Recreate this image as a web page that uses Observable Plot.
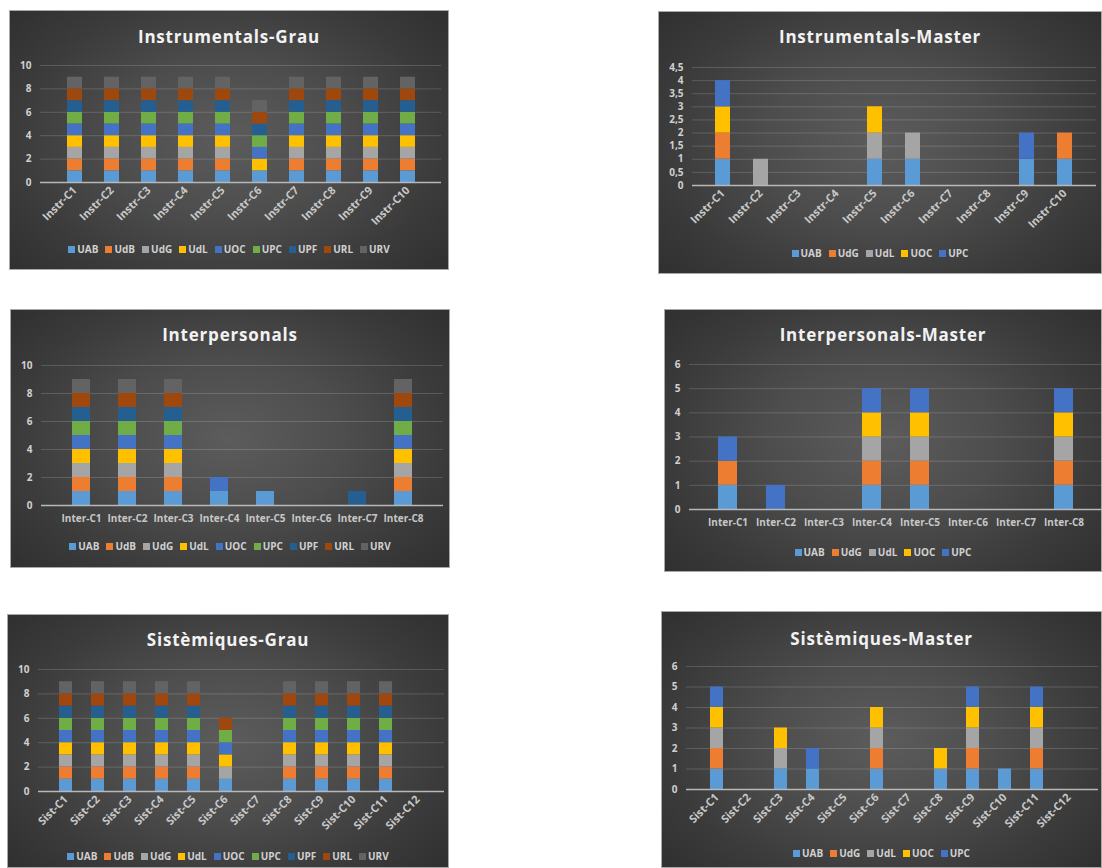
<!DOCTYPE html>
<html><head><meta charset="utf-8">
<script src="https://cdn.jsdelivr.net/npm/d3@7"></script>
<script src="https://cdn.jsdelivr.net/npm/@observablehq/plot@0.6"></script>
<style>
html,body{margin:0;padding:0;background:#fff;}
body{width:1102px;height:868px;overflow:hidden;position:relative;font-family:"Open Sans",sans-serif;}
.panel{position:absolute;overflow:hidden;box-sizing:border-box;
  background:radial-gradient(ellipse 75% 85% at 50% 50%, #5c5c5c 0%, #4d4d4d 35%, #3b3b3b 65%, #2a2a2a 100%);
  box-shadow:inset 0 0 0 1px #a8a8a8;}
.title{box-sizing:border-box;text-align:center;color:#f2f2f2;font-weight:700;font-size:17px;line-height:20px;letter-spacing:0.8px;white-space:nowrap;}
.legend{box-sizing:border-box;display:flex;justify-content:center;align-items:flex-start;color:#d0d0d0;font-size:10px;font-weight:700;line-height:14px;white-space:nowrap;}
.legend .item{display:flex;align-items:center;height:14px;margin:0 3.5px;}
.legend .sw{display:inline-block;width:7px;height:7px;margin-right:2px;}
svg{display:block;}
</style>
</head><body>
<script>
// ---- series and colours ----
const gradSeries = ["UAB","UdB","UdG","UdL","UOC","UPC","UPF","URL","URV"];
const gradColors = ["#5b9bd5","#ed7d31","#a5a5a5","#ffc000","#4472c4","#70ad47","#255e91","#9e480e","#636363"];
const masterSeries = ["UAB","UdG","UdL","UOC","UPC"];
const masterColors = ["#5b9bd5","#ed7d31","#a5a5a5","#ffc000","#4472c4"];

// ---- categories ----
const instrCats = ["Instr-C1","Instr-C2","Instr-C3","Instr-C4","Instr-C5","Instr-C6","Instr-C7","Instr-C8","Instr-C9","Instr-C10"];
const interCats = ["Inter-C1","Inter-C2","Inter-C3","Inter-C4","Inter-C5","Inter-C6","Inter-C7","Inter-C8"];
const sistCats = ["Sist-C1","Sist-C2","Sist-C3","Sist-C4","Sist-C5","Sist-C6","Sist-C7","Sist-C8","Sist-C9","Sist-C10","Sist-C11","Sist-C12"];

// ---- values: one row per category, one column per series ----
const instrGrauValues = [
  [1,1,1,1,1,1,1,1,1],
  [1,1,1,1,1,1,1,1,1],
  [1,1,1,1,1,1,1,1,1],
  [1,1,1,1,1,1,1,1,1],
  [1,1,1,1,1,1,1,1,1],
  [1,0,0,1,1,1,1,1,1],
  [1,1,1,1,1,1,1,1,1],
  [1,1,1,1,1,1,1,1,1],
  [1,1,1,1,1,1,1,1,1],
  [1,1,1,1,1,1,1,1,1]
];
const instrMasterValues = [
  [1,1,0,1,1],
  [0,0,1,0,0],
  [0,0,0,0,0],
  [0,0,0,0,0],
  [1,0,1,1,0],
  [1,0,1,0,0],
  [0,0,0,0,0],
  [0,0,0,0,0],
  [1,0,0,0,1],
  [1,1,0,0,0]
];
const interGrauValues = [
  [1,1,1,1,1,1,1,1,1],
  [1,1,1,1,1,1,1,1,1],
  [1,1,1,1,1,1,1,1,1],
  [1,0,0,0,1,0,0,0,0],
  [1,0,0,0,0,0,0,0,0],
  [0,0,0,0,0,0,0,0,0],
  [0,0,0,0,0,0,1,0,0],
  [1,1,1,1,1,1,1,1,1]
];
const interMasterValues = [
  [1,1,0,0,1],
  [0,0,0,0,1],
  [0,0,0,0,0],
  [1,1,1,1,1],
  [1,1,1,1,1],
  [0,0,0,0,0],
  [0,0,0,0,0],
  [1,1,1,1,1]
];
const sistGrauValues = [
  [1,1,1,1,1,1,1,1,1],
  [1,1,1,1,1,1,1,1,1],
  [1,1,1,1,1,1,1,1,1],
  [1,1,1,1,1,1,1,1,1],
  [1,1,1,1,1,1,1,1,1],
  [1,0,1,1,1,1,0,1,0],
  [0,0,0,0,0,0,0,0,0],
  [1,1,1,1,1,1,1,1,1],
  [1,1,1,1,1,1,1,1,1],
  [1,1,1,1,1,1,1,1,1],
  [1,1,1,1,1,1,1,1,1],
  [0,0,0,0,0,0,0,0,0]
];
const sistMasterValues = [
  [1,1,1,1,1],
  [0,0,0,0,0],
  [1,0,1,1,0],
  [1,0,0,0,1],
  [0,0,0,0,0],
  [1,1,1,1,0],
  [0,0,0,0,0],
  [1,0,0,1,0],
  [1,1,1,1,1],
  [1,0,0,0,0],
  [1,1,1,1,1],
  [0,0,0,0,0]
];

// ---- tick values ----
const ticks10 = [0,2,4,6,8,10];
const ticks45 = [0,0.5,1,1.5,2,2.5,3,3.5,4,4.5];
const ticks6 = [0,1,2,3,4,5,6];

// ---- layout (page pixels) ----
const panels = [
  {title:"Instrumentals-Grau", cats:instrCats, series:gradSeries, colors:gradColors, values:instrGrauValues, ticks:ticks10, ymax:10,
   L:9,T:10,W:440,H:260, titleY:37, yTopPx:65, y0Px:182, x0Px:40, x1Px:441, legendY:249, rotate:-45},
  {title:"Instrumentals-Master", cats:instrCats, series:masterSeries, colors:masterColors, values:instrMasterValues, ticks:ticks45, ymax:4.5,
   L:658,T:11,W:444,H:263, titleY:37, yTopPx:67, y0Px:185, x0Px:692, x1Px:1096, legendY:253, rotate:-45},
  {title:"Interpersonals", cats:interCats, series:gradSeries, colors:gradColors, values:interGrauValues, ticks:ticks10, ymax:10,
   L:10,T:309,W:440,H:259, titleY:335, yTopPx:365, y0Px:505, x0Px:41, x1Px:443, legendY:546, rotate:0},
  {title:"Interpersonals-Master", cats:interCats, series:masterSeries, colors:masterColors, values:interMasterValues, ticks:ticks6, ymax:6,
   L:664,T:309,W:438,H:263, titleY:335, yTopPx:364, y0Px:509, x0Px:689, x1Px:1102, legendY:552, rotate:0},
  {title:"Sistèmiques-Grau", cats:sistCats, series:gradSeries, colors:gradColors, values:sistGrauValues, ticks:ticks10, ymax:10,
   L:7,T:614,W:442,H:254, titleY:640, yTopPx:669, y0Px:791, x0Px:38, x1Px:444, legendY:856, rotate:-45},
  {title:"Sistèmiques-Master", cats:sistCats, series:masterSeries, colors:masterColors, values:sistMasterValues, ticks:ticks6, ymax:6,
   L:661,T:611,W:441,H:257, titleY:639, yTopPx:666, y0Px:789, x0Px:686, x1Px:1098, legendY:853, rotate:-45}
];

const fmt = d => String(d).replace(".", ",");

for (const cfg of panels) {
  const {L,T,W,H,titleY,yTopPx,y0Px,x0Px,x1Px,legendY} = cfg;
  const div = document.createElement("div");
  div.className = "panel";
  div.style.cssText = `left:${L}px;top:${T}px;width:${W}px;height:${H}px;`;

  const svgTop = yTopPx - 12;
  const titleH = svgTop - T;
  const title = document.createElement("div");
  title.className = "title";
  title.textContent = cfg.title;
  title.style.height = titleH + "px";
  title.style.paddingTop = (titleY - T - 10) + "px";
  div.appendChild(title);

  const svgH = (legendY - 10) - svgTop;
  const rows = [];
  cfg.cats.forEach((c, i) => cfg.series.forEach((s, j) => {
    const v = cfg.values[i][j];
    if (v) rows.push({cat: c, series: s, value: v});
  }));

  const chart = Plot.plot({
    width: W, height: svgH,
    marginTop: 12, marginBottom: svgTop + svgH - y0Px,
    marginLeft: x0Px - L, marginRight: L + W - x1Px,
    style: {background: "none", color: "#d0d0d0", fontSize: "10px", fontWeight: "700", fontFamily: "Open Sans", overflow: "visible"},
    x: {domain: cfg.cats, padding: 0.6, label: null},
    y: {domain: [0, cfg.ymax], label: null},
    color: {domain: cfg.series, range: cfg.colors},
    marks: [
      Plot.gridY(cfg.ticks.filter(t => t > 0), {stroke: "#ffffff", strokeOpacity: 0.16, strokeWidth: 1}),
      Plot.barY(rows, {x: "cat", y: "value", fill: "series"}),
      Plot.ruleY([0], {stroke: "#b8b8b8", strokeWidth: 1.5}),
      Plot.axisY({ticks: cfg.ticks, tickSize: 0, tickPadding: 9, tickFormat: fmt, label: null, fill: "#d0d0d0"}),
      Plot.axisX({tickSize: 0, tickPadding: cfg.rotate ? 6 : 9, tickRotate: cfg.rotate, label: null, fill: "#c8c8c8", fontSize: cfg.rotate ? 11 : 10})
    ]
  });
  div.appendChild(chart);

  const legend = document.createElement("div");
  legend.className = "legend";
  legend.style.height = (H - titleH - svgH) + "px";
  legend.style.paddingTop = (legendY - (svgTop + svgH) - 7) + "px";
  cfg.series.forEach((s, j) => {
    const it = document.createElement("div");
    it.className = "item";
    const sw = document.createElement("span");
    sw.className = "sw";
    sw.style.background = cfg.colors[j];
    it.appendChild(sw);
    it.appendChild(document.createTextNode(s));
    legend.appendChild(it);
  });
  div.appendChild(legend);

  document.body.appendChild(div);
}
</script>
</body></html>
